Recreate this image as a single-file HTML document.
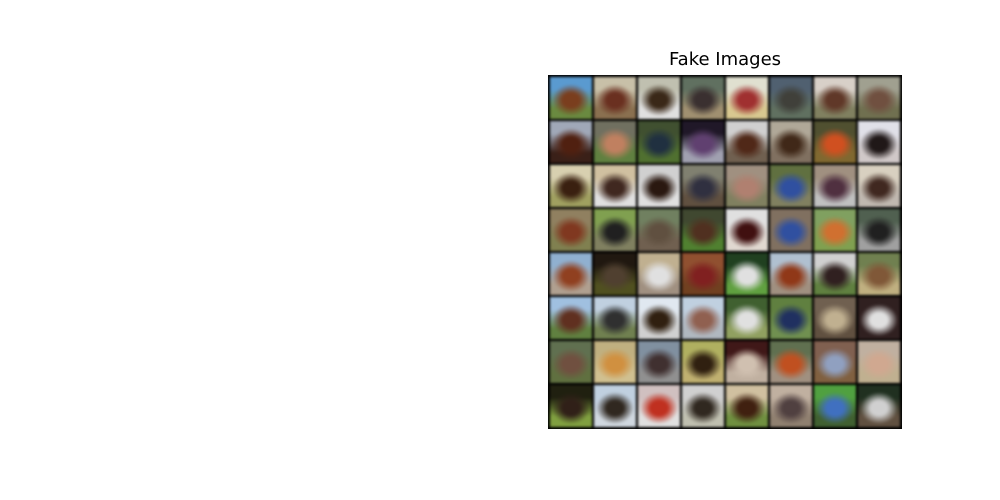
<!DOCTYPE html>
<html><head><meta charset="utf-8">
<style>
html,body{margin:0;padding:0;background:#fff;}
body{width:1000px;height:500px;position:relative;overflow:hidden;font-family:"DejaVu Sans","Liberation Sans",sans-serif;}
#title{position:absolute;left:548px;width:354px;top:49px;text-align:center;font-size:18px;color:#000;}
#grid{position:absolute;left:548px;top:75px;width:354px;height:354px;background:#000;}
.cell{position:absolute;width:42px;height:42px;filter:blur(1.2px);}
</style></head>
<body>
<div id="title">Fake Images</div>
<div id="grid"></div>
<script>
const tops=["#5a9ad0","#c8c0a8","#c0c0b0","#607060","#e0e0d0","#506070","#d8d0c8","#a0a090",
"#a0a8b8","#707060","#405030","#201828","#d0d0d0","#b0a898","#505030","#e0e0e8",
"#d8d0b0","#d0c0a0","#d0d0d0","#808070","#a09080","#607040","#a09080","#d8d0c0",
"#908060","#80a050","#708060","#404830","#e0e0e0","#807060","#80a060","#506050",
"#90b0d0","#201810","#c0b090","#905030","#204020","#b0c0d0","#d0d0d0","#708050",
"#a0c0e0","#c0d0e0","#e0e8f0","#c0d0e0","#406030","#608040","#706050","#302020",
"#607050","#c0b080","#8090a0","#b0b060","#401818","#607050","#806050","#c0b0a0",
"#202010","#c0d0e0","#d0c0c0","#d0d0d0","#d0c0a0","#c0b0a0","#50a040","#203020"];
const subjects=["#7a3e1e","#6a3020","#3a2818","#3a3030","#a03030","#40403a","#603828","#705040",
"#502010","#c08060","#203040","#604070","#502818","#402818","#d05020","#201818",
"#3a2010","#402820","#2a1810","#303040","#b08070","#3050a0","#503040","#402820",
"#803820","#202020","#605040","#503020","#401010","#3050a0","#d07030","#202020",
"#904020","#504030","#e0e0e0","#802020","#e0e0e0","#903818","#302020","#805838",
"#603020","#303030","#302010","#906050","#e0e0e0","#203060","#c0b090","#e0e0e0",
"#705040","#d09040","#403030","#302010","#d0c0b0","#c05020","#90a0c0","#d0a890",
"#302018","#302820","#c03020","#302820","#402010","#504040","#4070c0","#d0d0d0"];
const grounds=["#6a8a40","#8a7050","#e0e0e0","#a09070","#d8c890","#607060","#808060","#707050",
"#3a2018","#608040","#507030","#a0a0b0","#706050","#807060","#806830","#d0c8c8",
"#a0a060","#e0e0e0","#e0e0e0","#605040","#808060","#808060","#c0c0c0","#c0b8b0",
"#808050","#808060","#706050","#508030","#e0d8d0","#807060","#80a050","#a0a0a0",
"#b0a090","#505020","#a09080","#704020","#60a040","#a09080","#608040","#c0b080",
"#608040","#708050","#d0d0d0","#b0b8c0","#90a060","#709050","#605040","#302020",
"#607040","#d0c090","#909090","#c0b070","#c0b0a0","#a09080","#806040","#c0b090",
"#80a040","#d0d8e0","#e0e0e0","#c0c0b0","#709040","#908070","#406030","#605040"];
const grid=document.getElementById('grid');
for(let i=0;i<64;i++){
  const r=Math.floor(i/8), c=i%8;
  const el=document.createElement('div');
  
  
  el.className='cell';
  el.style.left=(2+c*44)+'px';
  el.style.top=(2+r*44)+'px';
  el.style.background=`radial-gradient(ellipse 45% 38% at 50% 55%, ${subjects[i]} 0%, ${subjects[i]} 45%, transparent 100%), linear-gradient(to bottom, ${tops[i]} 0%, ${tops[i]} 30%, ${grounds[i]} 75%, ${grounds[i]} 100%)`;
  grid.appendChild(el);
}
</script>
</body></html>
